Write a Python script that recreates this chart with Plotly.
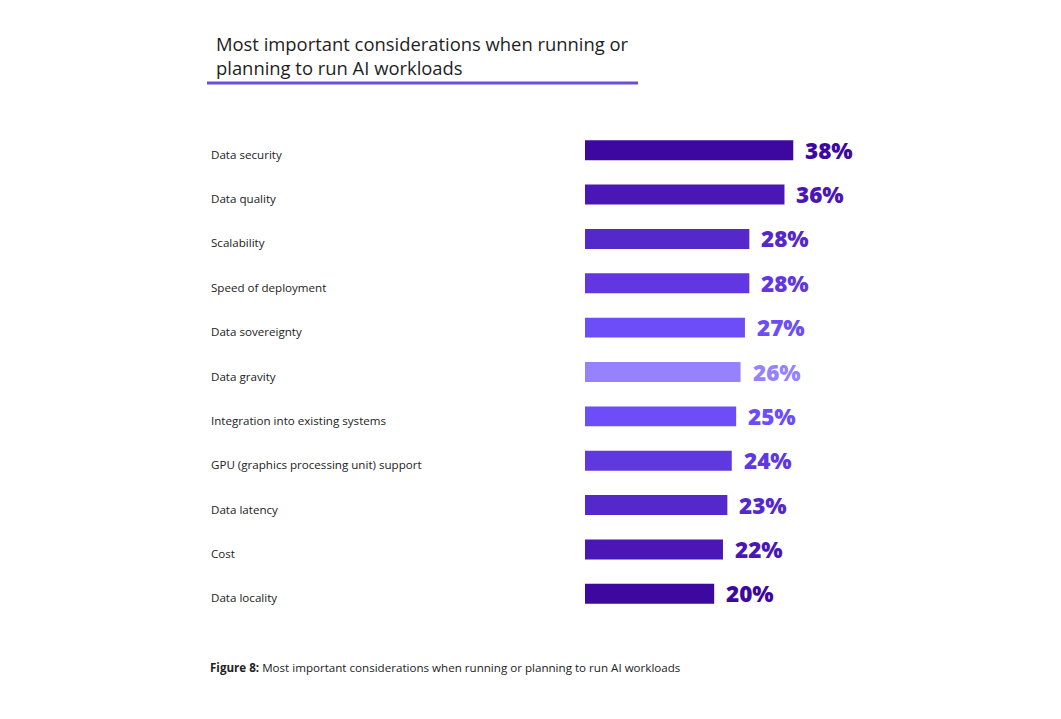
import plotly.graph_objects as go

categories = ["Data security", "Data quality", "Scalability", "Speed of deployment",
              "Data sovereignty", "Data gravity", "Integration into existing systems",
              "GPU (graphics processing unit) support", "Data latency", "Cost", "Data locality"]
values = [38, 36, 28, 28, 27, 26, 25, 24, 23, 22, 20]
colors = ["#3D08A0", "#4A17B6", "#5528CA", "#6237E2", "#6C4DF8", "#9682FD",
          "#6C4DF8", "#6038E0", "#5428CA", "#4A17B6", "#3D08A0"]
labels = [f"{v}%" for v in values]

offset = 9.4  # axis stub before zero, as drawn in the source
FONT = "Open Sans"
S = 8  # page body margin

W, H = 1061, 719
L, R, T, B = 585 - S, 215 + S, 128 - S, 103 + S
pw = W - L - R
ph = H - T - B
def px(x):
    return (x - S - L) / pw
def py(y):
    return (H - B - (y - S)) / ph

fig = go.Figure()
fig.add_trace(go.Bar(
    y=categories, x=[v + offset for v in values], base=-offset,
    orientation="h", marker=dict(color=colors, line=dict(width=0)),
    cliponaxis=False, hoverinfo="skip",
))

annotations = []
for c in categories:
    annotations.append(dict(x=px(209), xref="paper", y=c, yref="y", yshift=-4,
                            text=c, showarrow=False, xanchor="left",
                            font=dict(family=FONT, size=11.6, color="#222222")))
for c, v, lab, col in zip(categories, values, labels, colors):
    annotations.append(dict(x=v, xref="x", y=c, yref="y", xshift=10,
                            text=lab, showarrow=False, xanchor="left", yanchor="middle",
                            font=dict(family=FONT, size=22.5, color=col, weight=800)))

fig.update_layout(
    width=W, height=H,
    margin=dict(l=L, r=R, t=T, b=B),
    plot_bgcolor="white", paper_bgcolor="white",
    showlegend=False, bargap=0.55,
    xaxis=dict(range=[-offset, 50], visible=False, fixedrange=True),
    yaxis=dict(categoryorder="array", categoryarray=categories[::-1],
               range=[-0.5, 10.5], visible=False),
    annotations=annotations,
)

fig.add_annotation(x=px(214), y=py(55.5), xref="paper", yref="paper", showarrow=False,
                   xanchor="left", yanchor="middle", align="left",
                   text="Most important considerations when running or<br>planning to run AI workloads",
                   font=dict(family=FONT, size=18.4, color="#1E1E1E"))
fig.add_shape(type="line", xref="paper", yref="paper", x0=px(207), x1=px(638),
              y0=py(83), y1=py(83), line=dict(color="#6B4FDB", width=3))
fig.add_annotation(x=px(208), y=py(667), xref="paper", yref="paper", showarrow=False,
                   xanchor="left", yanchor="middle",
                   text="<b>Figure 8:</b> Most important considerations when running or planning to run AI workloads",
                   font=dict(family=FONT, size=11.6, color="#222222"))

fig.write_html("out.html")
